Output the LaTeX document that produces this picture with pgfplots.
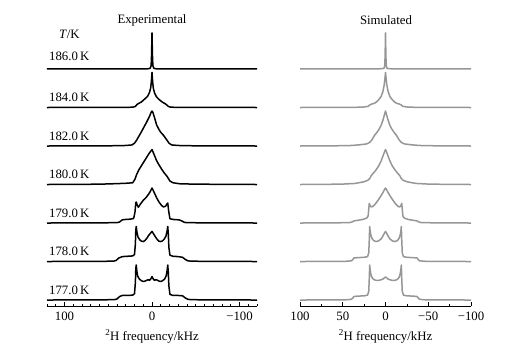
\documentclass[border=0pt]{standalone}
\usepackage{pgfplots}
\pgfplotsset{compat=1.18}
\usepackage{fontspec}
\setmainfont{Liberation Serif}
\definecolor{simgray}{RGB}{150,150,150}
\newcommand{\fs}{\fontsize{12.8bp}{15bp}\selectfont}
\pgfplotsset{nmr/.style={
  scale only axis, height=279bp,
  ymin=-0.171, ymax=7.8,
  x dir=reverse,
  axis x line=bottom, axis y line=none, ytick=\empty,
  axis line style={-, line width=0.9bp, black},
  tick align=inside,
  major tick length=4bp, minor tick length=2.5bp,
  every tick/.style={black, line width=0.7bp},
  clip=false,
  ticklabel style={font=\fs},
  xticklabel style={yshift=-2bp},
  label style={font=\fs},
  xlabel style={yshift=-3bp},
  xlabel={\textsuperscript{2}H frequency/kHz},
}}
\pgfplotsset{exp/.style={black, line width=1.5bp, no markers, line join=round},
             sim/.style={simgray, line width=1.5bp, no markers, line join=round}}
\begin{document}
\begin{tikzpicture}[x=1bp,y=1bp,font=\fs]
\useasboundingbox (0,0) rectangle (526,347);
% ---------------- Experimental ----------------
\begin{axis}[nmr, at={(47bp,41bp)}, anchor=south west, width=210bp,
  xmin=-120, xmax=120, xtick={-100,0,100}, xticklabels={−100,0,100},
  minor xtick={-120,-110,...,120}]
% 186
\addplot[exp] table[row sep=\\, y expr=\thisrow{y}+6.6] {x y\\
120 0\\ 20 0\\ 5 0.005\\ 2 0.02\\ 1 0.1\\ 0.5 0.4\\ 0 1.03\\ -0.5 0.4\\ -1 0.1\\ -2 0.02\\ -5 0.005\\ -20 0\\ -120 0\\};
% 184
\addplot[exp] table[row sep=\\, y expr=\thisrow{y}+5.5] {x y\\
120 0\\ 40 0.003\\ 22 0.008\\ 19 0.03\\ 17 0.09\\ 15 0.12\\ 12 0.16\\ 8 0.25\\ 5 0.32\\ 3 0.42\\ 1.5 0.56\\ 0.7 0.75\\ 0 1.0\\ -0.7 0.75\\ -1.5 0.55\\ -3 0.41\\ -5 0.31\\ -8 0.23\\ -12 0.15\\ -15 0.11\\ -17 0.07\\ -19 0.025\\ -22 0.008\\ -40 0.003\\ -120 0\\};
% 182
\addplot[exp] table[row sep=\\, y expr=\thisrow{y}+4.4] {x y\\
120 0\\ 50 0.005\\ 30 0.015\\ 23 0.03\\ 20 0.08\\ 17.5 0.17\\ 15 0.28\\ 12 0.41\\ 9 0.55\\ 6 0.69\\ 3 0.84\\ 1 0.96\\ 0 1.0\\ -1 0.96\\ -3 0.8\\ -5.3 0.6\\ -8 0.47\\ -10 0.39\\ -13 0.31\\ -15 0.24\\ -17 0.17\\ -19.5 0.08\\ -22.5 0.03\\ -30 0.015\\ -50 0.005\\ -120 0\\};
% 180
\addplot[exp] table[row sep=\\, y expr=\thisrow{y}+3.3] {x y\\
120 0\\ 80 0.005\\ 59 0.01\\ 40 0.025\\ 30 0.035\\ 22 0.05\\ 19.5 0.15\\ 17.5 0.29\\ 15 0.42\\ 12 0.54\\ 9 0.66\\ 6 0.78\\ 3 0.9\\ 0 1.0\\ -2 0.88\\ -5.3 0.68\\ -8 0.56\\ -11 0.44\\ -14 0.33\\ -17 0.24\\ -19 0.16\\ -20.5 0.1\\ -24 0.05\\ -32 0.02\\ -50 0.01\\ -80 0.005\\ -120 0\\};
% 179
\addplot[exp] table[row sep=\\, y expr=\thisrow{y}+2.2] {x y\\
120 0\\ 60 0.005\\ 40 0.01\\ 37 0.03\\ 34 0.09\\ 31 0.1\\ 25 0.11\\ 21 0.13\\ 19.5 0.3\\ 18.5 0.58\\ 18 0.6\\ 17 0.52\\ 15.6 0.45\\ 13 0.55\\ 10 0.65\\ 7 0.72\\ 4 0.82\\ 2 0.9\\ 0 1.0\\ -2 0.9\\ -5.3 0.72\\ -8 0.6\\ -11 0.5\\ -13 0.46\\ -15.5 0.48\\ -17 0.54\\ -18 0.57\\ -19 0.35\\ -20.5 0.12\\ -25 0.1\\ -31 0.09\\ -34 0.06\\ -37 0.02\\ -40 0.01\\ -60 0.005\\ -120 0\\};
% 178
\addplot[exp] table[row sep=\\, y expr=\thisrow{y}+1.1] {x y\\
120 0\\ 60 0.005\\ 44 0.01\\ 41 0.03\\ 38 0.1\\ 34 0.14\\ 28 0.15\\ 22 0.16\\ 20 0.2\\ 19 0.5\\ 18.5 0.9\\ 18 1.0\\ 17.3 0.85\\ 16 0.7\\ 14 0.62\\ 12 0.58\\ 10 0.57\\ 8 0.6\\ 6 0.66\\ 4 0.74\\ 2 0.8\\ 0 0.86\\ -2 0.78\\ -4 0.7\\ -6 0.63\\ -8 0.58\\ -10 0.57\\ -12 0.59\\ -14 0.64\\ -16 0.73\\ -17.3 0.88\\ -18 1.0\\ -18.6 0.8\\ -19.3 0.4\\ -20.5 0.18\\ -24 0.15\\ -30 0.14\\ -35 0.12\\ -38 0.06\\ -41 0.02\\ -45 0.01\\ -60 0.005\\ -120 0\\};
% 177
\addplot[exp] table[row sep=\\, y expr=\thisrow{y}] {x y\\
120 0\\ 60 0.005\\ 43 0.01\\ 40 0.03\\ 37 0.1\\ 34 0.13\\ 28 0.13\\ 22 0.14\\ 20 0.18\\ 19 0.5\\ 18.5 0.9\\ 18 1.0\\ 17.3 0.82\\ 16.3 0.68\\ 14.5 0.6\\ 12 0.55\\ 10 0.53\\ 8 0.54\\ 5.5 0.57\\ 4 0.58\\ 3 0.56\\ 1.5 0.6\\ 0 0.67\\ -1.5 0.6\\ -3 0.56\\ -4 0.58\\ -6 0.57\\ -8 0.54\\ -10 0.53\\ -12 0.55\\ -14.5 0.6\\ -16.3 0.7\\ -17.3 0.85\\ -18 1.0\\ -18.6 0.8\\ -19.3 0.4\\ -20.5 0.16\\ -24 0.13\\ -30 0.13\\ -35 0.12\\ -38 0.06\\ -41 0.02\\ -45 0.01\\ -60 0.005\\ -120 0\\};
% labels
\node[anchor=base west, inner sep=0pt] at (axis cs:106.5,7.46) {\textit{T}/K};
\node[anchor=base west, inner sep=0pt, xshift=2bp] at (axis cs:120,6.83) {186.0\,K};
\node[anchor=base west, inner sep=0pt, xshift=2bp] at (axis cs:120,5.67) {184.0\,K};
\node[anchor=base west, inner sep=0pt, xshift=2bp] at (axis cs:120,4.57) {182.0\,K};
\node[anchor=base west, inner sep=0pt, xshift=2bp] at (axis cs:120,3.47) {180.0\,K};
\node[anchor=base west, inner sep=0pt, xshift=2bp] at (axis cs:120,2.37) {179.0\,K};
\node[anchor=base west, inner sep=0pt, xshift=2bp] at (axis cs:120,1.27) {178.0\,K};
\node[anchor=base west, inner sep=0pt, xshift=2bp] at (axis cs:120,0.17) {177.0\,K};
\end{axis}
% ---------------- Simulated ----------------
\begin{axis}[nmr, at={(300bp,41bp)}, anchor=south west, width=171bp,
  xmin=-100, xmax=100, xtick={-100,-50,0,50,100}, xticklabels={−100,−50,0,50,100},
  minor xtick={-75,-25,25,75}]
% 186
\addplot[sim] table[row sep=\\, y expr=\thisrow{y}+6.6] {x y\\
100 0\\ 10 0.003\\ 3 0.01\\ 1.5 0.03\\ 0.8 0.12\\ 0.4 0.45\\ 0 1.03\\ -0.4 0.45\\ -0.8 0.12\\ -1.5 0.03\\ -3 0.01\\ -10 0.003\\ -100 0\\};
% 184
\addplot[sim] table[row sep=\\, y expr=\thisrow{y}+5.5] {x y\\
100 0\\ 50 0.002\\ 35 0.005\\ 25 0.015\\ 20 0.035\\ 18.7 0.07\\ 16 0.1\\ 13 0.12\\ 10 0.17\\ 7 0.25\\ 5 0.32\\ 3 0.46\\ 1.5 0.65\\ 0.6 0.85\\ 0 1.0\\ -0.6 0.85\\ -1.5 0.65\\ -3 0.46\\ -5 0.32\\ -7 0.25\\ -10 0.17\\ -13 0.12\\ -16 0.1\\ -18.7 0.07\\ -20 0.035\\ -25 0.015\\ -35 0.005\\ -50 0.002\\ -100 0\\};
% 182
\addplot[sim] table[row sep=\\, y expr=\thisrow{y}+4.4] {x y\\
100 0\\ 60 0.005\\ 40 0.015\\ 30 0.035\\ 22 0.06\\ 18.7 0.1\\ 16 0.17\\ 13 0.3\\ 10 0.39\\ 7 0.5\\ 5 0.6\\ 3 0.74\\ 1.5 0.87\\ 0 1.0\\ -1.5 0.87\\ -3 0.74\\ -5 0.6\\ -7 0.5\\ -10 0.39\\ -13 0.3\\ -16 0.17\\ -18.7 0.1\\ -22 0.06\\ -30 0.035\\ -40 0.015\\ -60 0.005\\ -100 0\\};
% 180
\addplot[sim] table[row sep=\\, y expr=\thisrow{y}+3.3] {x y\\
100 0\\ 70 0.005\\ 50 0.012\\ 36 0.03\\ 30 0.055\\ 25 0.08\\ 20.7 0.12\\ 18.5 0.17\\ 16.8 0.25\\ 14 0.33\\ 11 0.42\\ 8 0.53\\ 5 0.68\\ 2 0.88\\ 0 1.0\\ -2 0.88\\ -5 0.68\\ -8 0.53\\ -11 0.42\\ -14 0.33\\ -16.8 0.25\\ -18.5 0.17\\ -20.7 0.12\\ -25 0.08\\ -30 0.055\\ -36 0.03\\ -50 0.012\\ -70 0.005\\ -100 0\\};
% 179
\addplot[sim] table[row sep=\\, y expr=\thisrow{y}+2.2] {x y\\
100 0\\ 60 0.004\\ 42 0.012\\ 39 0.03\\ 37 0.06\\ 33 0.075\\ 27 0.1\\ 22 0.14\\ 20.3 0.2\\ 19.6 0.4\\ 19 0.56\\ 18 0.5\\ 16.8 0.46\\ 15 0.47\\ 12 0.54\\ 9 0.64\\ 6 0.75\\ 3 0.87\\ 1.5 0.94\\ 0 1.0\\ -1.5 0.94\\ -3 0.87\\ -6 0.75\\ -9 0.64\\ -12 0.54\\ -15 0.47\\ -16.8 0.46\\ -18 0.5\\ -19 0.56\\ -19.6 0.4\\ -20.3 0.2\\ -22 0.14\\ -27 0.1\\ -33 0.075\\ -37 0.06\\ -39 0.03\\ -42 0.012\\ -60 0.004\\ -100 0\\};
% 178
\addplot[sim] table[row sep=\\, y expr=\thisrow{y}+1.1] {x y\\
100 0\\ 60 0.003\\ 45 0.008\\ 40 0.02\\ 38.5 0.05\\ 37 0.1\\ 33 0.11\\ 25 0.12\\ 21 0.14\\ 19.6 0.25\\ 19 0.6\\ 18.5 1.0\\ 18 0.88\\ 17.2 0.76\\ 16 0.67\\ 14 0.6\\ 11 0.57\\ 8 0.59\\ 5 0.65\\ 3 0.73\\ 1.5 0.8\\ 0 0.86\\ -1.5 0.8\\ -3 0.73\\ -5 0.65\\ -8 0.59\\ -11 0.57\\ -14 0.6\\ -16 0.67\\ -17.2 0.76\\ -18 0.88\\ -18.5 1.0\\ -19 0.6\\ -19.6 0.25\\ -21 0.14\\ -25 0.12\\ -33 0.11\\ -37 0.1\\ -38.5 0.05\\ -40 0.02\\ -45 0.008\\ -60 0.003\\ -100 0\\};
% 177
\addplot[sim] table[row sep=\\, y expr=\thisrow{y}] {x y\\
100 0\\ 60 0.003\\ 45 0.008\\ 40 0.02\\ 38.5 0.05\\ 37 0.1\\ 33 0.11\\ 25 0.12\\ 21 0.14\\ 19.6 0.25\\ 19 0.6\\ 18.5 1.0\\ 18 0.88\\ 17.2 0.75\\ 16 0.65\\ 14 0.59\\ 11 0.56\\ 8 0.56\\ 5 0.58\\ 3 0.6\\ 1.5 0.63\\ 0 0.66\\ -1.5 0.63\\ -3 0.6\\ -5 0.58\\ -8 0.56\\ -11 0.56\\ -14 0.59\\ -16 0.65\\ -17.2 0.75\\ -18 0.88\\ -18.5 1.0\\ -19 0.6\\ -19.6 0.25\\ -21 0.14\\ -25 0.12\\ -33 0.11\\ -37 0.1\\ -38.5 0.05\\ -40 0.02\\ -45 0.008\\ -60 0.003\\ -100 0\\};
\end{axis}
\node at (152,327) {Experimental};
\node at (386,327) {Simulated};
\end{tikzpicture}
\end{document}
